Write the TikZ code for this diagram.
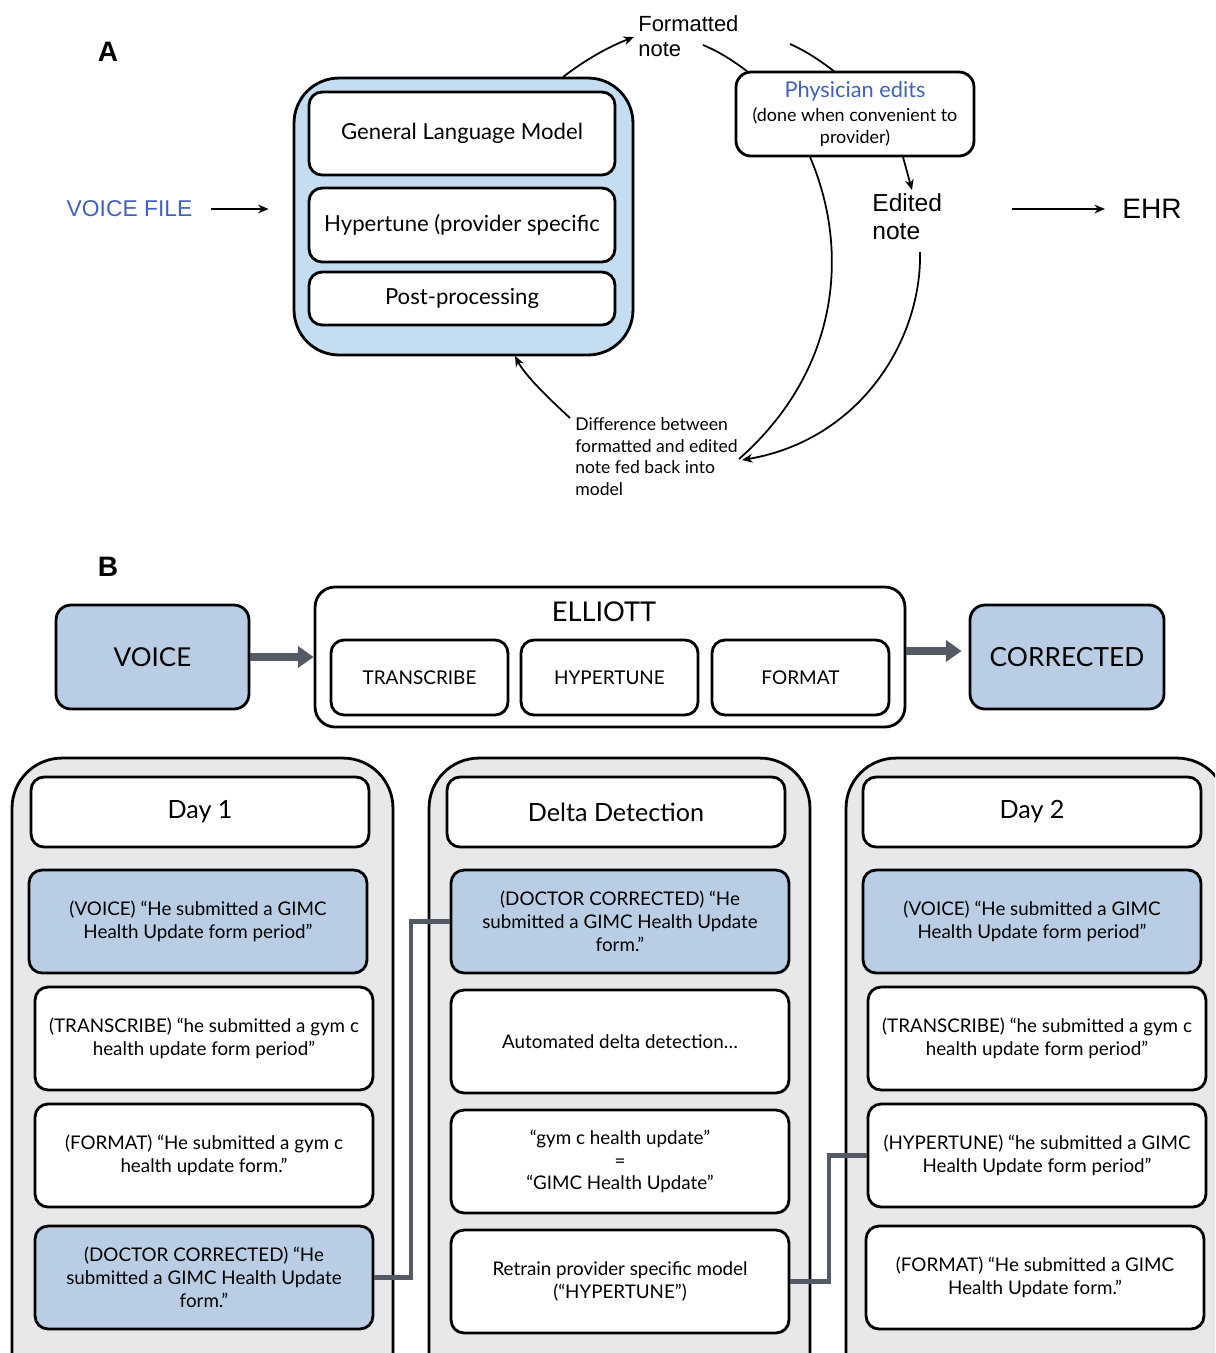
\documentclass[tikz,border=0pt]{standalone}
\usepackage{fontspec}
\setmainfont{Lato}
\newfontfamily\arialf{Liberation Sans}
\usetikzlibrary{arrows.meta,positioning}
\definecolor{ablue}{RGB}{197,221,241}
\definecolor{bblue}{RGB}{185,205,229}
\definecolor{colgray}{RGB}{231,232,234}
\definecolor{linkgray}{RGB}{84,90,99}
\definecolor{txtblue}{RGB}{66,98,186}

\begin{document}
\begin{tikzpicture}[x=0.02cm,y=-0.02cm,
	box/.style={draw, line width=1.6pt, rounded corners=0.26cm, fill=white, align=center, inner sep=1pt},
	cbox/.style={box, minimum width=6.76cm, minimum height=2.06cm, font=\fontsize{10.7}{13}\selectfont},
	hbox/.style={box, minimum width=6.76cm, minimum height=1.4cm, font=\fontsize{14.3}{16}\selectfont},
	col/.style={draw, line width=1.6pt, rounded corners=1cm, fill=colgray, minimum width=7.62cm, minimum height=13.24cm},
	lbl/.style={inner sep=0pt, align=left, font=\arialf\fontsize{12.5}{14.5}\selectfont},
	thin/.style={line width=1pt, -{Stealth[length=6pt,width=5pt]}},
	fat/.style={draw=linkgray, line width=4pt, -{Triangle[length=9pt,width=12pt]}},
	link/.style={draw=linkgray, line width=2.3pt}]
	\useasboundingbox (0,0) rectangle (1215,1353);
	\clip (0,0) rectangle (1215,1353);

	% part A
	\node (lA) at (108,52) {\arialf\bfseries\fontsize{16}{18}\selectfont A};
	\node [lbl, text=txtblue, font=\arialf\fontsize{13}{15}\selectfont] (voicefile) at (129.5,209) {VOICE FILE};
	\node [box, fill=ablue, minimum width=6.78cm, minimum height=5.54cm, rounded corners=0.9cm] (model) at (463.5,216.5) {};
	\node [box, minimum width=6.12cm, minimum height=1.66cm, font=\fontsize{12.6}{14}\selectfont] (glm) at (462,133.5) {General Language Model};
	\node [box, minimum width=6.12cm, minimum height=1.48cm, font=\fontsize{12.6}{14}\selectfont] (hyper) at (462,225) {Hypertune (provider specific};
	\node [box, minimum width=6.12cm, minimum height=1.06cm, font=\fontsize{12.6}{14}\selectfont] (post) at (462,298.5) {Post-processing};

	\node [lbl, anchor=west] (fnote) at (638,36) {Formatted\\note};
	\node [box, minimum width=4.76cm, minimum height=1.68cm, rounded corners=0.3cm, font=\fontsize{10.2}{12.4}\selectfont] (phys) at (855,114)
		{{\color{txtblue}\fontsize{12.4}{14}\selectfont Physician edits}\\[1pt]
		(done when convenient to\\provider)};
	\node [lbl, anchor=west, font=\arialf\fontsize{14}{16}\selectfont] (enote) at (872,217) {Edited\\note};
	\node [lbl, anchor=west, font=\arialf\fontsize{16}{18}\selectfont] (ehr) at (1122,209) {EHR};
	\node [inner sep=0pt, anchor=north west, align=left, font=\fontsize{10}{12.4}\selectfont] (diff) at (575,417)
		{Difference between\\formatted and edited\\note fed back into\\model};

	\coordinate (ehrin) at (1012,209);
	\coordinate (c1) at (563,77);
	\coordinate (c2) at (634,37);
	\coordinate (c3) at (703,45);
	\coordinate (c4) at (748,72);
	\coordinate (c5) at (790,44);
	\coordinate (c6) at (835,72);
	\coordinate (c7) at (810,157);
	\coordinate (c8) at (739,459);
	\coordinate (c9) at (920,252);
	\coordinate (c10) at (742,460);
	\coordinate (c11) at (570,418);
	\coordinate (c12) at (515,356);

	\draw [thin] ([xshift=0.36cm]voicefile.east) -- ([xshift=-0.48cm]model.west |- voicefile.east);
	\draw [thin] (ehrin) -- ([xshift=-0.34cm]ehr.west);
	\draw [thin] (c1) .. controls (585,60) and (608,47) .. (c2);
	\draw [line width=1pt] (c3) .. controls (720,52) and (735,62) .. (c4);
	\draw [line width=1pt] (c5) .. controls (808,52) and (822,62) .. (c6);
	\draw [thin] (903,157) -- (912,190);
	\draw [line width=1pt] (c7) .. controls (850,250) and (840,370) .. (c8);
	\draw [thin] (c9) .. controls (922,340) and (860,440) .. (c10);
	\draw [thin] (c11) .. controls (545,395) and (525,375) .. (c12);

	% part B
	\node (lB) at (108,567) {\arialf\bfseries\fontsize{16}{18}\selectfont B};
	\node [box, fill=bblue, minimum width=3.86cm, minimum height=2.08cm, rounded corners=0.3cm, font=\fontsize{14.8}{16}\selectfont] (voice) at (152.5,657) {VOICE};
	\node [box, minimum width=11.8cm, minimum height=2.8cm, rounded corners=0.4cm] (elliott) at (610,657) {};
	\node [font=\fontsize{15.5}{17}\selectfont] (elliottlbl) at (604,612) {ELLIOTT};
	\node [box, minimum width=3.54cm, minimum height=1.5cm, font=\fontsize{10.8}{12}\selectfont] (trans) at (419.5,677.5) {TRANSCRIBE};
	\node [box, minimum width=3.54cm, minimum height=1.5cm, font=\fontsize{10.8}{12}\selectfont] (htune) at (609.5,677.5) {HYPERTUNE};
	\node [box, minimum width=3.54cm, minimum height=1.5cm, font=\fontsize{10.8}{12}\selectfont] (fmt) at (800.5,677.5) {FORMAT};
	\node [box, fill=bblue, minimum width=3.88cm, minimum height=2.08cm, rounded corners=0.3cm, font=\fontsize{15}{17}\selectfont] (corrected) at (1067,657) {CORRECTED};
	\draw [fat] (voice.east) -- (elliott.west);
	\draw [fat] ([yshift=0.12cm]elliott.east) -- ([yshift=0.12cm,xshift=-0.14cm]corrected.west);

	\node [col] (col1) at (202.5,1089) {};
	\node [col] (col2) at (619.5,1089) {};
	\node [col] (col3) at (1036.5,1089) {};

	\node [hbox] (day1) at (200,812) {Day 1};
	\node [cbox, fill=bblue] (d1voice) at (198,921.5) {(VOICE) “He submitted a GIMC\\Health Update form period”};
	\node [cbox] (d1trans) at (204,1038.5) {(TRANSCRIBE) “he submitted a gym c\\health update form period”};
	\node [cbox] (d1fmt) at (204,1155.5) {(FORMAT) “He submitted a gym c\\health update form.”};
	\node [cbox, fill=bblue] (d1doc) at (204,1277.5) {(DOCTOR CORRECTED) “He\\submitted a GIMC Health Update\\form.”};

	\node [hbox] (ddhead) at (616,812) {Delta Detection};
	\node [cbox, fill=bblue] (dddoc) at (620,921.5) {(DOCTOR CORRECTED) “He\\submitted a GIMC Health Update\\form.”};
	\node [cbox] (ddauto) at (620,1041.5) {Automated delta detection…};
	\node [cbox, font=\fontsize{10.7}{12.7}\selectfont] (ddeq) at (620,1161.5) {“gym c health update”\\=\\“GIMC Health Update”};
	\node [cbox] (retrain) at (620,1281.5) {Retrain provider specific model\\(“HYPERTUNE”)};

	\node [hbox] (day2) at (1032,812) {Day 2};
	\node [cbox, fill=bblue] (d2voice) at (1032,921.5) {(VOICE) “He submitted a GIMC\\Health Update form period”};
	\node [cbox] (d2trans) at (1037,1038.5) {(TRANSCRIBE) “he submitted a gym c\\health update form period”};
	\node [cbox] (d2hyp) at (1037,1155.5) {(HYPERTUNE) “he submitted a GIMC\\Health Update form period”};
	\node [cbox] (d2fmt) at (1035,1277.5) {(FORMAT) “He submitted a GIMC\\Health Update form.”};

	\draw [link] (d1doc.east) -- ++(37,0) |- (dddoc.west);
	\draw [link] (retrain.east) -- ++(39,0) |- (d2hyp.west);
\end{tikzpicture}
\end{document}
